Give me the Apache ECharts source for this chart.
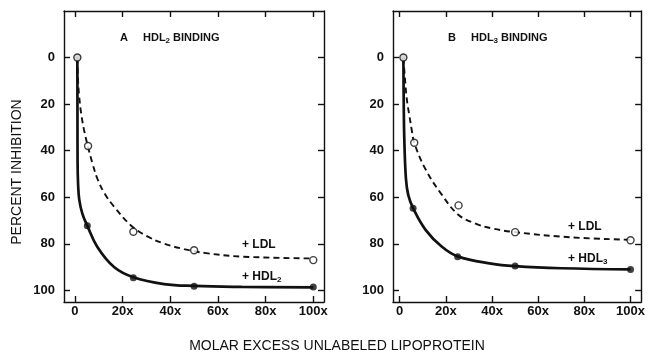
<!DOCTYPE html>
<html>
<head>
<meta charset="utf-8">
<script src="https://cdn.jsdelivr.net/npm/echarts@6/dist/echarts.min.js"></script>
<style>
  html, body { margin: 0; padding: 0; background: #fff; }
  #main { width: 648px; height: 356px; }
</style>
</head>
<body>
<div id="main"></div>
<script>
// tick positions and labels
var xTicks = [0, 20, 40, 60, 80, 100];
var xTickLabels = ['0', '20x', '40x', '60x', '80x', '100x'];
var yTicks = [0, 20, 40, 60, 80, 100];

// panel A: HDL2 binding  [molar excess, % inhibition]
var aHdlPoints = [[1, 0], [5.2, 72.3], [24.5, 94.6], [50, 98.2], [100, 98.6]];
var aLdlPoints = [[1, 0], [5.5, 38], [24.5, 74.8], [50, 82.8], [100, 87]];
// fitted curves as drawn in the figure
var aHdlCurve = [[1, 0], [1.05, 25], [1.1, 45], [1.3, 54], [1.8, 61], [3.1, 67], [5.2, 72.3], [9.4, 81.4],
  [16.4, 90], [24.5, 94.4], [37.4, 97.3], [50, 98.1], [70, 98.5], [100, 98.7]];
var aLdlCurve = [[1, 0], [1.3, 10], [1.8, 17], [2.6, 24], [3.8, 31], [5.5, 38.5], [7.5, 46], [9.4, 52],
  [12.5, 58.5], [16.4, 64], [23.4, 72], [30, 76.6], [37.4, 79.9], [45.8, 82.3], [55, 84], [70, 85.5], [100, 86.3]];

// panel B: HDL3 binding
var bHdlPoints = [[1.6, 0], [5.8, 64.7], [25.1, 85.6], [50, 89.5], [100, 91]];
var bLdlPoints = [[1.6, 0], [6.3, 36.6], [25.5, 63.5], [50, 75], [100, 78.5]];
var bHdlCurve = [[1.6, 0], [1.75, 20], [2, 35], [2.7, 52], [3.7, 59], [5.8, 64.7], [11.2, 74], [18.3, 81.3],
  [25.1, 85.4], [39.6, 88.5], [50, 89.6], [70, 90.5], [100, 91]];
var bLdlCurve = [[1.6, 0], [2.2, 8], [3.1, 18], [4.2, 25], [5.2, 31], [6.3, 36.6], [11.2, 48], [18.3, 59],
  [25.4, 67.5], [32.5, 71.2], [39.6, 73.3], [50, 75], [74, 77.2], [100, 78.3]];

var ink = '#111';
var font = 'Liberation Sans, Arial, sans-serif';

function xAxes(g, min, max) {
  return [{
    type: 'value', gridIndex: g, min: min, max: max, position: 'bottom',
    axisLine: { onZero: false, lineStyle: { color: ink, width: 1.4 } },
    axisTick: { inside: true, length: 6, customValues: xTicks, lineStyle: { color: ink, width: 1.4 } },
    axisLabel: {
      customValues: xTicks, margin: 3, color: ink, fontFamily: font, fontSize: 13, fontWeight: 'bold',
      formatter: function (v) { return xTickLabels[xTicks.indexOf(v)]; }
    },
    splitLine: { show: false }
  }, {
    type: 'value', gridIndex: g, min: min, max: max, position: 'top',
    axisLine: { onZero: false, lineStyle: { color: ink, width: 1.4 } },
    axisTick: { inside: true, length: 6, customValues: xTicks, lineStyle: { color: ink, width: 1.4 } },
    axisLabel: { show: false },
    splitLine: { show: false }
  }];
}

function yAxes(g) {
  return [{
    type: 'value', gridIndex: g, min: -20, max: 105, inverse: true, position: 'left',
    axisLine: { onZero: false, lineStyle: { color: ink, width: 1.4 } },
    axisTick: { inside: true, length: 6, customValues: yTicks, lineStyle: { color: ink, width: 1.4 } },
    axisLabel: { customValues: yTicks, margin: 9, color: ink, fontFamily: font, fontSize: 13, fontWeight: 'bold' },
    splitLine: { show: false }
  }, {
    type: 'value', gridIndex: g, min: -20, max: 105, inverse: true, position: 'right',
    axisLine: { onZero: false, lineStyle: { color: ink, width: 1.4 } },
    axisTick: { inside: true, length: 6, customValues: yTicks, lineStyle: { color: ink, width: 1.4 } },
    axisLabel: { show: false },
    splitLine: { show: false }
  }];
}

function curve(data, xi, yi, dashed) {
  return {
    type: 'line', xAxisIndex: xi, yAxisIndex: yi, data: data,
    smooth: 0.4,
    showSymbol: false, silent: true,
    lineStyle: dashed ? { color: ink, width: 1.9, type: [6, 4] } : { color: ink, width: 2.7 }
  };
}

function dots(data, xi, yi, open) {
  return {
    type: 'scatter', xAxisIndex: xi, yAxisIndex: yi, data: data, symbol: 'circle', symbolSize: 7, z: 5,
    itemStyle: open ? { color: '#fff', borderColor: ink, borderWidth: 1.4 } : { color: ink }
  };
}

var rich = { s: { fontSize: 8, fontWeight: 'bold', fontFamily: font, fill: ink, padding: [5, 0, 0, 0] } };

function label(x, y, text, size) {
  return {
    type: 'text', x: x, y: y,
    style: { text: text, fill: ink, font: 'bold ' + size + 'px ' + font, verticalAlign: 'middle', rich: rich }
  };
}

var chart = echarts.init(document.getElementById('main'), null, { renderer: 'canvas' });
chart.setOption({
  animation: false,
  backgroundColor: '#fff',
  grid: [
    { left: 64, top: 11, width: 260, height: 291 },
    { left: 393, top: 11, width: 253, height: 291 }
  ],
  xAxis: xAxes(0, -4.6, 104.5).concat(xAxes(1, -2.9, 104.6)),
  yAxis: yAxes(0).concat(yAxes(1)),
  series: [
    curve(aHdlCurve, 0, 0, false),
    curve(aLdlCurve, 0, 0, true),
    dots(aHdlPoints, 0, 0, false),
    dots(aLdlPoints, 0, 0, true),
    curve(bHdlCurve, 2, 2, false),
    curve(bLdlCurve, 2, 2, true),
    dots(bHdlPoints, 2, 2, false),
    dots(bLdlPoints, 2, 2, true)
  ],
  graphic: [
    label(120, 38, 'A', 11),
    label(143, 38, 'HDL{s|2} BINDING', 11),
    label(448, 38, 'B', 11),
    label(471, 38, 'HDL{s|3} BINDING', 11),
    label(242, 245, '+ LDL', 12),
    label(242, 277, '+ HDL{s|2}', 12),
    label(568, 227, '+ LDL', 12),
    label(568, 259, '+ HDL{s|3}', 12),
    {
      type: 'text', x: 17, y: 172, rotation: Math.PI / 2,
      style: { text: 'PERCENT INHIBITION', fill: ink, font: '14px ' + font, align: 'center', verticalAlign: 'middle' }
    },
    {
      type: 'text', x: 337, y: 346,
      style: { text: 'MOLAR EXCESS UNLABELED LIPOPROTEIN', fill: ink, font: '14px ' + font, align: 'center', verticalAlign: 'middle' }
    }
  ]
});
</script>
</body>
</html>
